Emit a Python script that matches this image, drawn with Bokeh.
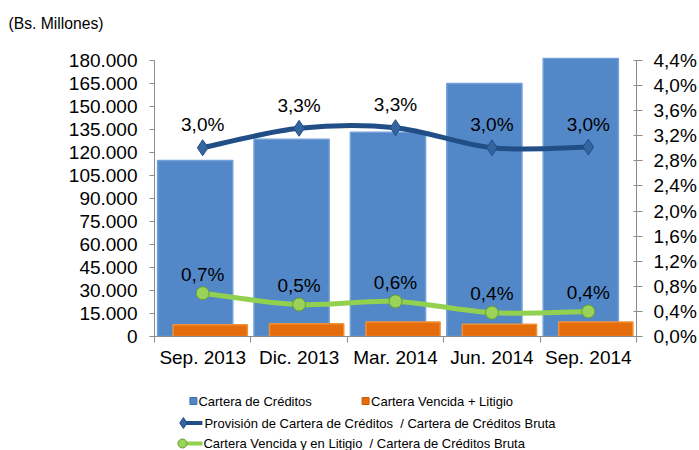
from bokeh.plotting import figure
from bokeh.models import Range1d, LinearAxis, FixedTicker, ColumnDataSource
from bokeh.layouts import column
from bokeh.transform import dodge
from bokeh.embed import file_html
from bokeh.resources import INLINE
from bokeh.core.properties import value

# ---------------- data ----------------
categories = ["Sep. 2013", "Dic. 2013", "Mar. 2014", "Jun. 2014", "Sep. 2014"]
cartera_creditos = [114800, 128700, 133200, 165000, 181500]
cartera_vencida = [7600, 8300, 9500, 8000, 9500]
provision_ratio = [3.01, 3.32, 3.33, 3.01, 3.02]
vencida_ratio = [0.69, 0.51, 0.56, 0.38, 0.40]
provision_labels = ["3,0%", "3,3%", "3,3%", "3,0%", "3,0%"]
vencida_labels = ["0,7%", "0,5%", "0,6%", "0,4%", "0,4%"]
left_ticks = [0, 15000, 30000, 45000, 60000, 75000, 90000, 105000, 120000,
              135000, 150000, 165000, 180000]
left_tick_labels = ["0", "15.000", "30.000", "45.000", "60.000", "75.000", "90.000",
                    "105.000", "120.000", "135.000", "150.000", "165.000", "180.000"]
right_ticks = [0.0, 0.4, 0.8, 1.2, 1.6, 2.0, 2.4, 2.8, 3.2, 3.6, 4.0, 4.4]
right_tick_labels = ["0,0%", "0,4%", "0,8%", "1,2%", "1,6%", "2,0%", "2,4%", "2,8%",
                     "3,2%", "3,6%", "4,0%", "4,4%"]
unit_label = "(Bs. Millones)"
legend_labels = ["Cartera de Créditos", "Cartera Vencida + Litigio",
                 "Provisión de Cartera de Créditos\u00a0 / Cartera de Créditos Bruta",
                 "Cartera Vencida y en Litigio\u00a0 / Cartera de Créditos Bruta"]

# ---------------- style ----------------
FONT = value("Liberation Sans")
BLUE = "#5388C8"
BLUE_EDGE = "#73A0D8"
ORANGE = "#E46C0A"
ORANGE_EDGE = "#F0913A"
DARK = "#224E88"
DARK_MARK = "#35659F"
GREEN = "#92D050"
GREEN_MARK = "#9BD35A"
GREEN_EDGE = "#64A02C"
AXIS_GREY = "#8C8C8C"

W = 699
BL, BR = 154, 62          # left / right borders so all frames line up
HDR_H, MAIN_H, LEG_H = 36, 344, 70
LEFT_MAX = 180000
TOP_PAD = 182000
RIGHT_MAX = 4.4

x = list(range(1, len(categories) + 1))

src = ColumnDataSource(dict(x=x, cc=cartera_creditos, cv=cartera_vencida,
                            pr=provision_ratio, vr=vencida_ratio,
                            pl=provision_labels, vl=vencida_labels))


def blank(h, y0, top=0, **kw):
    f = figure(width=W, height=h, x_range=Range1d(BL, W - BR), y_range=Range1d(y0 + h, y0),
               output_backend="svg", toolbar_location=None,
               min_border_left=BL, min_border_right=BR, min_border_top=top, min_border_bottom=0,
               x_axis_type=None, y_axis_type=None, outline_line_color=None, **kw)
    f.xgrid.visible = False
    f.ygrid.visible = False
    return f


# ---------------- header ----------------
hdr = blank(HDR_H, 0, top=31, title=unit_label)
hdr.title.align = "left"
hdr.title.vertical_align = "bottom"
hdr.title.offset = 8 - BL
hdr.title.text_font = "Liberation Sans"
hdr.title.text_font_size = "15.7px"
hdr.title.text_font_style = "normal"
hdr.title.text_color = "black"
hdr.title.standoff = 0

# ---------------- main chart ----------------
p = figure(width=W, height=MAIN_H, x_range=Range1d(0.5, len(categories) + 0.5),
           y_range=Range1d(0, TOP_PAD), output_backend="svg", toolbar_location=None,
           min_border_left=BL, min_border_right=BR, min_border_top=21,
           min_border_bottom=44, outline_line_color=None)
p.extra_y_ranges = {"right": Range1d(0, RIGHT_MAX * TOP_PAD / LEFT_MAX)}
p.xgrid.visible = False
p.ygrid.visible = False

p.vbar(x=dodge("x", -0.078, range=p.x_range), top="cc", width=0.78, source=src,
       fill_color=BLUE, line_color=BLUE_EDGE, line_width=1.5)
p.vbar(x=dodge("x", 0.078, range=p.x_range), top="cv", width=0.77, source=src,
       fill_color=ORANGE, line_color=ORANGE_EDGE, line_width=1.5)


def smooth_segments(xs, ys):
    n = len(xs)
    seg = dict(x0=[], y0=[], x1=[], y1=[], cx0=[], cy0=[], cx1=[], cy1=[])
    for i in range(n - 1):
        i0 = max(i - 1, 0)
        i3 = min(i + 2, n - 1)
        seg["x0"].append(xs[i]); seg["y0"].append(ys[i])
        seg["x1"].append(xs[i + 1]); seg["y1"].append(ys[i + 1])
        seg["cx0"].append(xs[i] + (xs[i + 1] - xs[i0]) / 6.0)
        seg["cy0"].append(ys[i] + (ys[i + 1] - ys[i0]) / 6.0)
        seg["cx1"].append(xs[i + 1] - (xs[i3] - xs[i]) / 6.0)
        seg["cy1"].append(ys[i + 1] - (ys[i3] - ys[i]) / 6.0)
    return seg


p.bezier(source=ColumnDataSource(smooth_segments(x, provision_ratio)),
         x0="x0", y0="y0", x1="x1", y1="y1", cx0="cx0", cy0="cy0", cx1="cx1", cy1="cy1",
         y_range_name="right", line_color=DARK, line_width=5, line_cap="round")
p.bezier(source=ColumnDataSource(smooth_segments(x, vencida_ratio)),
         x0="x0", y0="y0", x1="x1", y1="y1", cx0="cx0", cy0="cy0", cx1="cx1", cy1="cy1",
         y_range_name="right", line_color=GREEN, line_width=5, line_cap="round")

p.scatter(x="x", y="pr", source=src, y_range_name="right", marker="diamond", size=16,
          fill_color=DARK_MARK, line_color=DARK, line_width=1)
p.scatter(x="x", y="vr", source=src, y_range_name="right", marker="circle", size=13,
          fill_color=GREEN_MARK, line_color=GREEN_EDGE, line_width=1)

p.text(x="x", y="pr", text="pl", source=src, y_range_name="right", y_offset=-23,
       text_align="center", text_baseline="middle", text_font=FONT,
       text_font_size="19px", text_color="black")
p.text(x="x", y="vr", text="vl", source=src, y_range_name="right", y_offset=-19,
       text_align="center", text_baseline="middle", text_font=FONT,
       text_font_size="19px", text_color="black")

# left axis
ya = p.yaxis[0]
ya.ticker = FixedTicker(ticks=left_ticks)
ya.major_label_overrides = dict(zip(left_ticks, left_tick_labels))
ya.bounds = (0, LEFT_MAX)
ya.axis_line_color = AXIS_GREY
ya.major_tick_line_color = AXIS_GREY
ya.major_tick_in = 0
ya.major_tick_out = 5
ya.minor_tick_line_color = None
ya.major_label_standoff = 12
ya.major_label_text_font = "Liberation Sans"
ya.major_label_text_font_size = "19px"
ya.major_label_text_color = "black"

# right axis
ra = LinearAxis(y_range_name="right", ticker=FixedTicker(ticks=right_ticks),
                major_label_overrides=dict(zip(right_ticks, right_tick_labels)),
                bounds=(0, RIGHT_MAX), axis_line_color=AXIS_GREY,
                major_tick_line_color=AXIS_GREY, major_tick_in=3, major_tick_out=6,
                minor_tick_line_color=None, major_label_standoff=11,
                major_label_text_font="Liberation Sans",
                major_label_text_font_size="19px", major_label_text_color="black")
p.add_layout(ra, "right")

# x axis
xa = p.xaxis[0]
xa.ticker = FixedTicker(ticks=x, minor_ticks=[i + 0.5 for i in range(len(categories) + 1)])
xa.major_label_overrides = dict(zip(x, categories))
xa.axis_line_color = AXIS_GREY
xa.major_tick_line_color = None
xa.major_tick_in = 0
xa.major_tick_out = 0
xa.minor_tick_line_color = AXIS_GREY
xa.minor_tick_in = 0
xa.minor_tick_out = 6
xa.major_label_standoff = 4
xa.major_label_text_font = "Liberation Sans"
xa.major_label_text_font_size = "19px"
xa.major_label_text_color = "black"

# ---------------- legend ----------------
y_top = HDR_H + MAIN_H
lg = blank(LEG_H, y_top)
r1, r2, r3 = 400.5, 422.5, 443
lg.rect(x=[193, 365.5], y=[r1, r1], width=7, height=7,
        fill_color=[BLUE, ORANGE], line_color=["#3E6FAE", "#C55A05"])
lg.segment(x0=[180, 180], y0=[r2, r3], x1=[202, 202], y1=[r2, r3],
           line_color=[DARK, GREEN], line_width=4)
lg.scatter(x=[183], y=[r2], marker="diamond", size=11, fill_color=DARK_MARK, line_color=DARK)
lg.scatter(x=[182], y=[r3], marker="circle", size=9, fill_color=GREEN_MARK, line_color=GREEN_EDGE)
lg.text(x=[198, 371, 204, 203], y=[r1, r1, r2, r3], text=legend_labels,
        text_align="left", text_baseline="middle", text_font=FONT,
        text_font_size="13px", text_color="black")

layout = column(hdr, p, lg, spacing=0)
open("out.html", "w").write(file_html(layout, INLINE))
